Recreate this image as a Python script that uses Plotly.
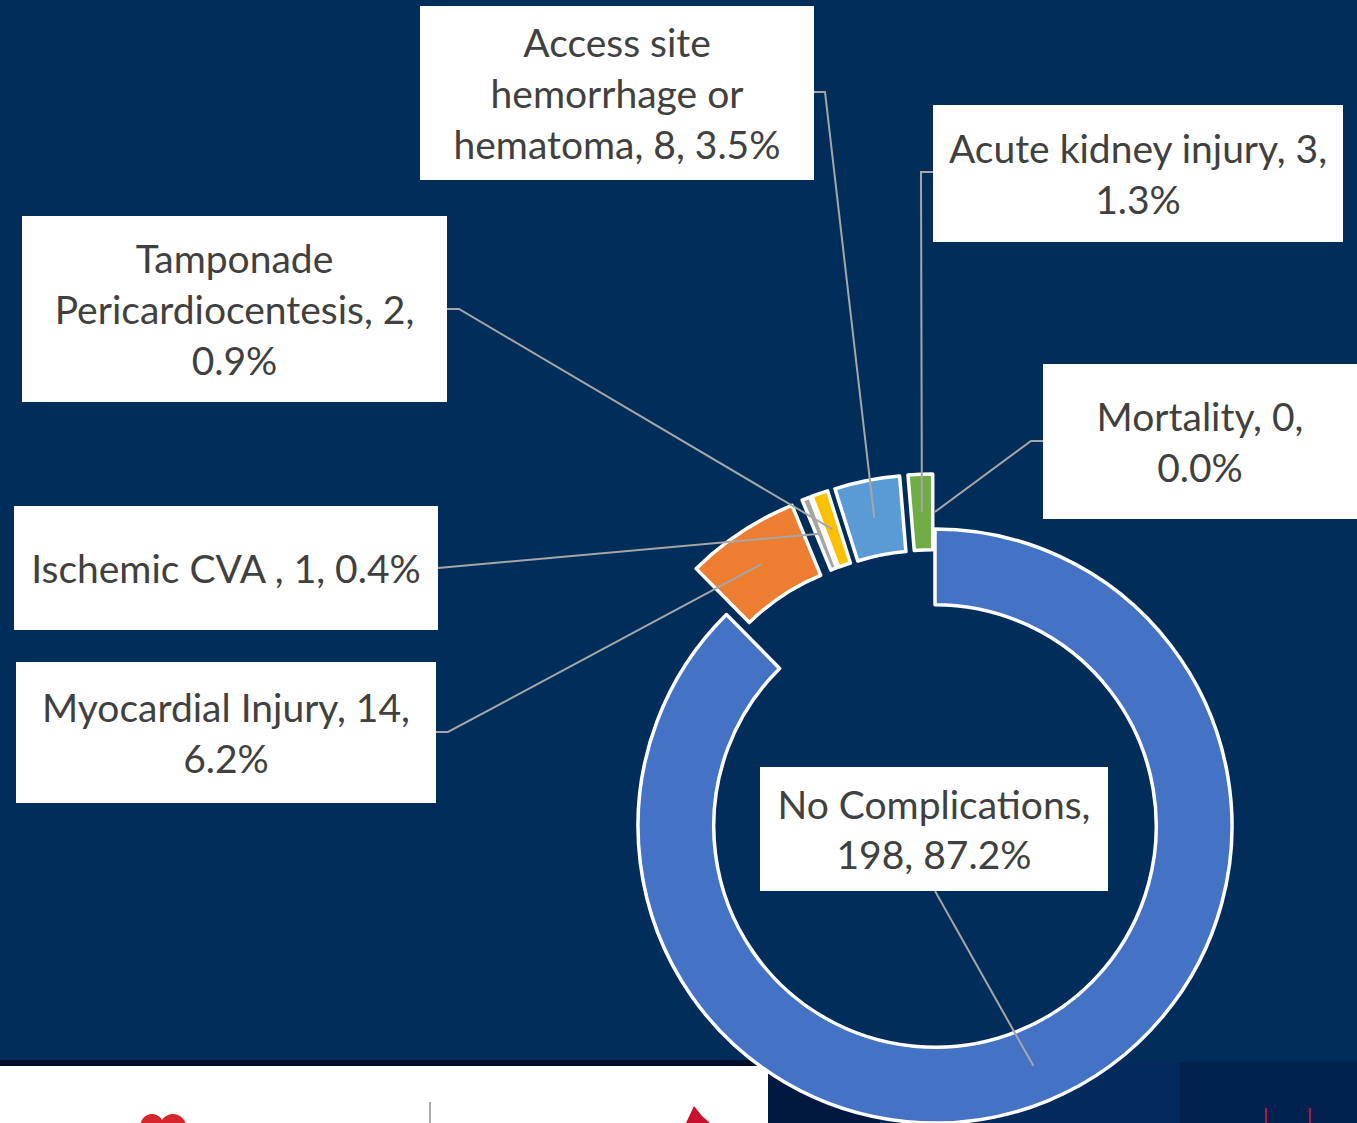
import math
import plotly.graph_objects as go

# ---------------- data ----------------
categories = ["No Complications", "Myocardial Injury", "Ischemic CVA ",
              "Tamponade Pericardiocentesis",
              "Access site hemorrhage or hematoma",
              "Acute kidney injury", "Mortality"]
counts = [198, 14, 1, 2, 8, 3, 0]
percent_labels = ["87.2%", "6.2%", "0.4%", "0.9%", "3.5%", "1.3%", "0.0%"]
label_texts = [
    "No Complications,<br>198, 87.2%",
    "Myocardial Injury, 14,<br>6.2%",
    "Ischemic CVA , 1, 0.4%",
    "Tamponade<br>Pericardiocentesis, 2,<br>0.9%",
    "Access site<br>hemorrhage or<br>hematoma, 8, 3.5%",
    "Acute kidney injury, 3,<br>1.3%",
    "Mortality, 0,<br>0.0%",
]

# ---------------- style / layout ----------------
colors = ["#4472C4", "#ED7D31", "#A5A5A5", "#FFC000", "#5B9BD5", "#70AD47", "#264478"]
BG = "#012D5A"
W, H = 1357, 1123
CX, CY, R = 935, 826, 297
HOLE = 0.745
PULL_PX = [0, 55, 55, 55, 55, 55, 55]

# label boxes (px): x0, y0, x1, y1 ; leader start ; elbow
boxes = [
    (760, 767, 1108, 891),
    (16, 662, 436, 803),
    (14, 506, 438, 630),
    (22, 216, 447, 402),
    (420, 6, 814, 180),
    (933, 105, 1343, 242),
    (1043, 364, 1357, 519),
]
leader_start = [(935, 891), (436, 732), (438, 568), (447, 309), (814, 92), (933, 172), (1043, 441)]
leader_elbow = [None, (448, 732), None, (459, 309), (825, 92), (921, 172), (1031, 441)]


def px(x):
    return x / W


def py(y):
    return 1 - y / H


total = sum(counts)
fig = go.Figure()

mid_points = []
cum = 0.0
for i, v in enumerate(counts):
    theta = 2 * math.pi * (cum + v / 2) / total
    cum += v
    sx, sy = math.sin(theta), -math.cos(theta)
    ccx = CX + PULL_PX[i] * sx
    ccy = CY + PULL_PX[i] * sy
    rm = R * (1 + HOLE) / 2
    mid_points.append((ccx + rm * sx, ccy + rm * sy))
    if v <= 0:
        continue
    cols = [colors[j] if j == i else "rgba(0,0,0,0)" for j in range(len(counts))]
    lcols = ["white" if j == i else "rgba(0,0,0,0)" for j in range(len(counts))]
    fig.add_trace(go.Pie(
        values=counts, labels=categories, sort=False, direction="clockwise",
        rotation=0, hole=HOLE, textinfo="none", hoverinfo="skip",
        showlegend=False,
        marker=dict(colors=cols, line=dict(color=lcols, width=3.5)),
        domain=dict(x=[max(0, px(ccx - R)), min(1, px(ccx + R))],
                    y=[max(0, py(ccy + R)), min(1, py(ccy - R))]),
    ))

shapes = []
# slide decorations at bottom
shapes.append(dict(type="rect", xref="paper", yref="paper", layer="below",
                   x0=px(0), x1=px(768), y0=py(1123), y1=py(1066),
                   fillcolor="white", line=dict(width=0)))
shapes.append(dict(type="rect", xref="paper", yref="paper", layer="below",
                   x0=px(0), x1=px(768), y0=py(1066), y1=py(1060),
                   fillcolor="#000E2C", line=dict(width=0)))
for (a, b, c) in [(768, 880, "#011840"), (880, 1180, "#022A5C"), (1180, 1357, "#01214F")]:
    shapes.append(dict(type="rect", xref="paper", yref="paper", layer="below",
                       x0=px(a), x1=px(b), y0=py(1123), y1=py(1062),
                       fillcolor=c, line=dict(width=0)))
shapes.append(dict(type="line", xref="paper", yref="paper", layer="below",
                   x0=px(430), x1=px(430), y0=py(1102), y1=py(1123),
                   line=dict(color="#555555", width=1)))
for (a, b) in [(140, 164), (160, 186)]:
    shapes.append(dict(type="circle", xref="paper", yref="paper", layer="below",
                       x0=px(a), x1=px(b), y0=py(1140), y1=py(1114),
                       fillcolor="#D7262B", line=dict(width=0)))
shapes.append(dict(type="path", xref="paper", yref="paper", layer="below",
                   path=f"M {px(686)} {py(1123)} L {px(694)} {py(1106)} L {px(702)} {py(1116)} L {px(710)} {py(1123)} Z",
                   fillcolor="#C8102E", line=dict(width=0)))
for xx in [1266, 1310]:
    shapes.append(dict(type="line", xref="paper", yref="paper", layer="below",
                       x0=px(xx), x1=px(xx), y0=py(1123), y1=py(1108),
                       line=dict(color="#B0183C", width=2)))

# leader lines
for i in range(len(counts)):
    pts = [leader_start[i]]
    if leader_elbow[i] is not None:
        pts.append(leader_elbow[i])
    pts.append(mid_points[i])
    path = "M " + " L ".join(f"{px(x)} {py(y)}" for x, y in pts)
    shapes.append(dict(type="path", xref="paper", yref="paper", layer="above",
                       path=path, line=dict(color="#A6A6A6", width=2)))

annotations = []
for i, (x0, y0, x1, y1) in enumerate(boxes):
    annotations.append(dict(
        xref="paper", yref="paper", x=px((x0 + x1) / 2), y=py((y0 + y1) / 2),
        xanchor="center", yanchor="middle", showarrow=False,
        text=label_texts[i], align="center", valign="middle",
        width=x1 - x0, height=y1 - y0, bgcolor="white", borderpad=0,
        borderwidth=0, font=dict(family="Lato", size=39, color="#404040"),
    ))

fig.update_layout(
    width=W, height=H, margin=dict(l=0, r=0, t=0, b=0),
    paper_bgcolor=BG, plot_bgcolor=BG,
    shapes=shapes, annotations=annotations, showlegend=False,
)

fig.write_html(
    "out.html",
    config={"displayModeBar": False},
    post_script="document.body.style.margin='0';document.body.style.overflow='hidden';",
)
